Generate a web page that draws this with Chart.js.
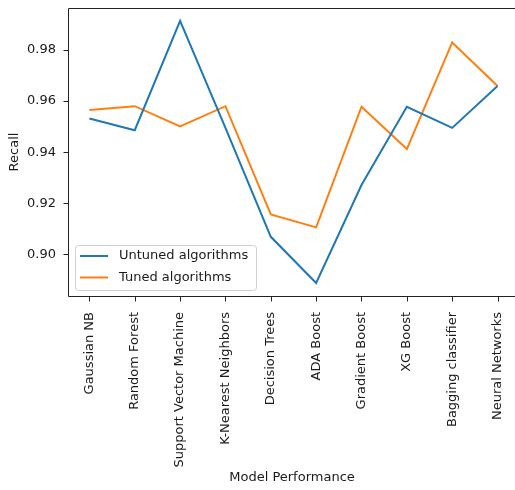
<!DOCTYPE html>
<html>
<head>
<meta charset="utf-8">
<script src="https://cdn.jsdelivr.net/npm/chart.js@4/dist/chart.umd.min.js"></script>
<style>
  html, body { margin: 0; padding: 0; background: #fff; overflow: hidden; }
</style>
</head>
<body>
<canvas id="c" width="515" height="490"></canvas>
<script>
// Model names along the x axis
const categories = [
  'Gaussian NB', 'Random Forest', 'Support Vector Machine', 'K-Nearest Neighbors',
  'Decision Trees', 'ADA Boost', 'Gradient Boost', 'XG Boost',
  'Bagging classifier', 'Neural Networks'
];
// Recall per model
const untunedRecall = [0.9532, 0.9486, 0.9915, 0.9495, 0.9068, 0.8887, 0.9271, 0.9578, 0.9495, 0.9659];
const tunedRecall   = [0.9565, 0.9580, 0.9501, 0.9580, 0.9156, 0.9105, 0.9578, 0.9412, 0.9830, 0.9659];
// Y tick values
const yTicks = [0.90, 0.92, 0.94, 0.96, 0.98];

const FONT = 'DejaVu Sans';
const TXT = '#1a1a1a';
const TICK_LEN = 5;

const toPoints = arr => arr.map((v, i) => ({ x: i, y: v }));

// Spines (left, top, bottom) and outward tick marks
const framePlugin = {
  id: 'frame',
  afterDatasetsDraw(chart) {
    const { ctx, chartArea: a, scales } = chart;
    const l = Math.round(a.left) - 0.5, r = chart.width;
    const t = Math.round(a.top) + 0.5, b = Math.round(a.bottom) + 0.5;
    ctx.save();
    ctx.strokeStyle = '#222';
    ctx.lineWidth = 1;
    ctx.beginPath();
    ctx.moveTo(r, t); ctx.lineTo(l, t);
    ctx.moveTo(l, t); ctx.lineTo(l, b);
    ctx.moveTo(l, b); ctx.lineTo(r, b);
    scales.x.ticks.forEach(tk => {
      const px = Math.round(scales.x.getPixelForValue(tk.value)) + 0.5;
      ctx.moveTo(px, b); ctx.lineTo(px, b + TICK_LEN);
    });
    scales.y.ticks.forEach(tk => {
      const py = Math.round(scales.y.getPixelForValue(tk.value)) + 0.5;
      ctx.moveTo(l, py); ctx.lineTo(l - TICK_LEN, py);
    });
    ctx.stroke();
    ctx.restore();
  }
};

// Legend box in the lower-left corner of the plot area
const insideLegend = {
  id: 'insideLegend',
  afterDraw(chart) {
    const { ctx, chartArea: a } = chart;
    const x = a.left + 6, w = 181, h = 45;
    const y = a.bottom - 6 - h;
    ctx.save();
    ctx.beginPath();
    ctx.roundRect(x + 0.5, y + 0.5, w, h, 3);
    ctx.fillStyle = 'rgba(255,255,255,0.8)';
    ctx.fill();
    ctx.strokeStyle = '#d0d0d0';
    ctx.lineWidth = 1;
    ctx.stroke();
    ctx.font = '13px "' + FONT + '"';
    ctx.textBaseline = 'middle';
    chart.data.datasets.forEach((ds, i) => {
      const ly = y + 11 + i * 21.5;
      ctx.beginPath();
      ctx.moveTo(x + 5, ly);
      ctx.lineTo(x + 33, ly);
      ctx.strokeStyle = ds.borderColor;
      ctx.lineWidth = 2;
      ctx.stroke();
      ctx.fillStyle = TXT;
      ctx.fillText(ds.label, x + 44, ly);
    });
    ctx.restore();
  }
};

new Chart(document.getElementById('c'), {
  type: 'line',
  data: {
    datasets: [
      { label: 'Untuned algorithms', data: toPoints(untunedRecall),
        borderColor: '#1f77b4', borderWidth: 2, pointRadius: 0, tension: 0, fill: false },
      { label: 'Tuned algorithms', data: toPoints(tunedRecall),
        borderColor: '#ff7f0e', borderWidth: 2, pointRadius: 0, tension: 0, fill: false }
    ]
  },
  options: {
    responsive: false,
    animation: false,
    events: [],
    layout: { padding: { left: 0, top: 8, right: 0, bottom: 0 } },
    plugins: { legend: { display: false }, tooltip: { enabled: false } },
    scales: {
      x: {
        type: 'linear',
        min: -0.45,
        max: 9.385,
        afterBuildTicks(s) { s.ticks = categories.map((_, i) => ({ value: i })); },
        afterFit(s) { s.height = 194; s.paddingLeft = 0; s.paddingRight = 0; },
        border: { display: false },
        grid: { display: false },
        ticks: {
          autoSkip: false,
          minRotation: 90,
          maxRotation: 90,
          padding: 8,
          color: TXT,
          font: { family: FONT, size: 13 },
          callback: v => categories[v]
        },
        title: {
          display: true, text: 'Model Performance', color: TXT,
          font: { family: FONT, size: 13 }, padding: { top: 0, bottom: 5 }
        }
      },
      y: {
        min: 0.8836,
        max: 0.9965,
        afterBuildTicks(s) { s.ticks = yTicks.map(v => ({ value: v })); },
        afterFit(s) { s.width = 69; s.paddingTop = 0; s.paddingBottom = 0; },
        border: { display: false },
        grid: { display: false },
        ticks: {
          padding: 5,
          color: TXT,
          font: { family: FONT, size: 13 },
          callback: v => v.toFixed(2)
        },
        title: {
          display: true, text: 'Recall', color: TXT,
          font: { family: FONT, size: 13 }, padding: { top: 7, bottom: 0 }
        }
      }
    }
  },
  plugins: [framePlugin, insideLegend]
});
</script>
</body>
</html>
